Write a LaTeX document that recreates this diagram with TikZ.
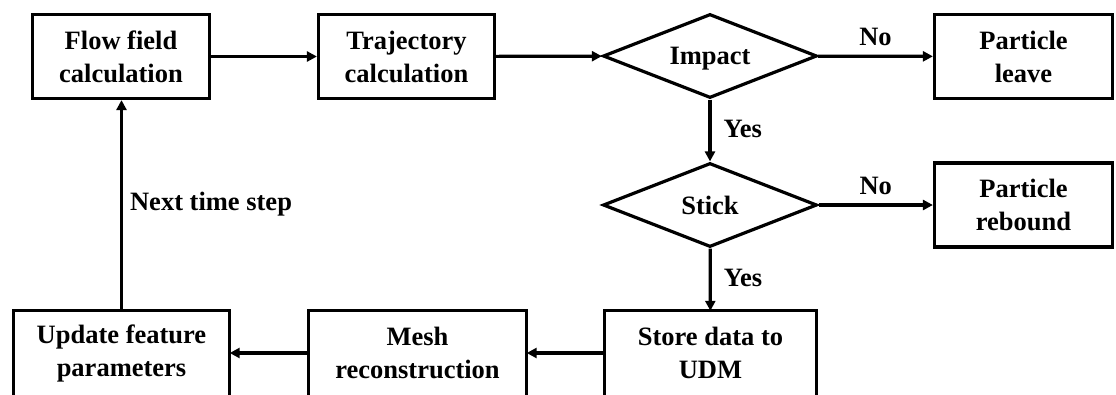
\documentclass[tikz,border=0pt]{standalone}
\usepackage{fontspec}
\setmainfont{Liberation Serif}
\usetikzlibrary{arrows.meta,shapes.geometric}
\begin{document}
\begin{tikzpicture}[x=1pt,y=-1pt,
  txt/.style={font=\bfseries\fontsize{26.5}{33}\selectfont},
  boxline/.style={line width=3.2pt},
  box/.style={txt,draw,boxline,rectangle,minimum height=84pt,align=center,inner sep=0pt},
  openbox/.style={txt,rectangle,minimum height=84pt,align=center,inner sep=0pt},
  dec/.style={txt,draw,boxline,diamond,aspect=2.5,minimum width=214pt,minimum height=84pt,inner sep=0pt,text depth=0pt},
  conn/.style={line width=3.2pt,-{Triangle[length=10pt,width=10pt]}},
  lbl/.style={txt,inner sep=0pt}]
\useasboundingbox (0,0) rectangle (1116,394);
\node[box,minimum width=177pt] (flow) at (121,56.5) {Flow field\\calculation};
\node[box,minimum width=176pt] (traj) at (406.5,56.5) {Trajectory\\calculation};
\node[dec] (impact) at (710,56) {Impact};
\node[box,minimum width=178pt] (leave) at (1023.5,56.5) {Particle\\leave};
\node[dec] (stick) at (710,205) {Stick};
\node[box,minimum width=178pt] (rebound) at (1023.5,205) {Particle\\rebound};
\node[openbox,minimum width=212pt] (store) at (710.5,353) {Store data to\\UDM};
\node[openbox,minimum width=218pt] (mesh) at (417.5,353) {Mesh\\reconstruction};
\node[openbox,minimum width=216pt] (update) at (121.5,353) {Update feature\\parameters};
\foreach \n in {store,mesh,update}
  \draw[boxline] ([yshift=-30pt]\n.south west) -- (\n.north west) -- (\n.north east) -- ([yshift=-30pt]\n.south east);
\draw[conn] (flow) -- (traj);
\draw[conn] (traj) -- (impact);
\draw[conn] (impact) -- node[lbl,midway,anchor=south,yshift=9pt] {No} (leave);
\draw[conn] (impact) -- node[lbl,midway,anchor=mid west,xshift=12pt,yshift=-5pt] {Yes} (stick);
\draw[conn] (stick) -- node[lbl,midway,anchor=south,yshift=9pt] {No} (rebound);
\draw[conn] (stick) -- node[lbl,midway,anchor=mid west,xshift=12pt,yshift=-5pt] {Yes} (store);
\draw[conn] (store) -- (mesh);
\draw[conn] (mesh) -- (update);
\draw[conn] (update.north) -- node[lbl,midway,anchor=mid west,xshift=7pt,yshift=-3pt] {Next time step} (update.north |- flow.south);
\end{tikzpicture}
\end{document}
